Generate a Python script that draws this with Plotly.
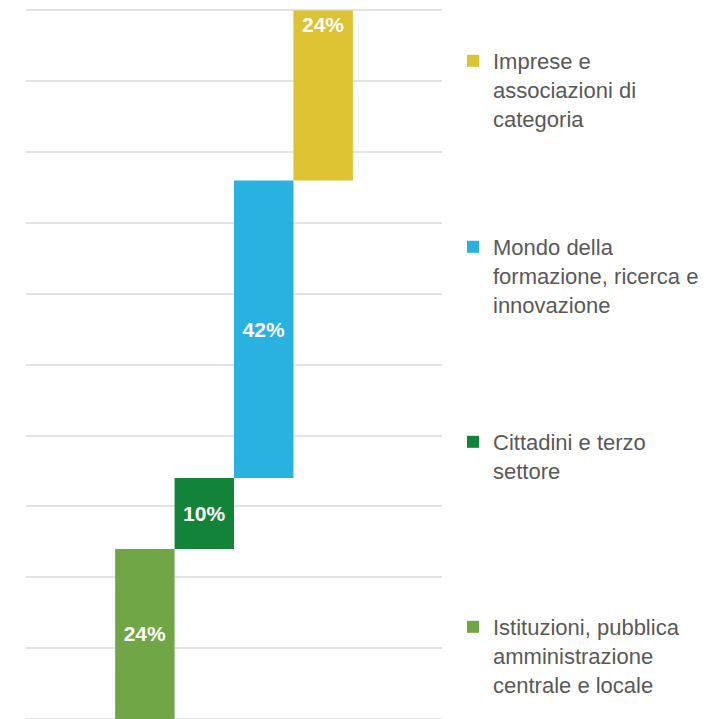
import plotly.graph_objects as go
import numpy as np

# Data (bottom to top of the cascade)
categories = [
    "Istituzioni, pubblica<br>amministrazione<br>centrale e locale",
    "Cittadini e terzo<br>settore",
    "Mondo della<br>formazione, ricerca e<br>innovazione",
    "Imprese e<br>associazioni di<br>categoria",
]
values = [24, 10, 42, 24]
labels = ["24%", "10%", "42%", "24%"]
colors = ["#70A645", "#13833A", "#29B1E0", "#DDC232"]

bases = np.concatenate([[0], np.cumsum(values)[:-1]])

fig = go.Figure()

legend_names = ["legend4", "legend3", "legend2", "legend"]
legend_marker_y = [627, 442, 247, 61]  # pixel centre of first legend line

for i, (cat, val, lab, col) in enumerate(zip(categories, values, labels, colors)):
    fig.add_trace(go.Bar(
        x=[i],
        y=[val],
        base=[bases[i]],
        width=1.0,
        name=cat,
        marker=dict(color=col, line=dict(width=0)),
        text=[lab],
        textposition="inside",
        insidetextanchor="end" if i == len(values) - 1 else "middle",
        textangle=0,
        textfont=dict(family="Liberation Sans, Arial, sans-serif", size=21, color="white", weight="bold"),
        legend=legend_names[i],
        hoverinfo="skip",
    ))

W, H = 707, 719
legend_common = dict(
    font=dict(family="Liberation Sans, Arial, sans-serif", size=22, color="#595959"),
    bgcolor="rgba(0,0,0,0)",
    borderwidth=0,
    xref="container",
    yref="container",
    xanchor="left",
    yanchor="top",
    valign="top",
    itemclick=False,
    itemdoubleclick=False,
)
layout_legends = {}
for ln, my in zip(legend_names, legend_marker_y):
    d = dict(legend_common)
    d["x"] = 445 / W
    d["y"] = 1 - (my - 29) / H
    layout_legends[ln] = d

fig.update_layout(
    width=W,
    height=H,
    margin=dict(l=18, r=W - 434, t=0, b=0, autoexpand=False),
    plot_bgcolor="white",
    paper_bgcolor="white",
    barmode="overlay",
    showlegend=True,
    xaxis=dict(range=[-2, 5], visible=False, fixedrange=True),
    yaxis=dict(range=[-1.127, 100.35], tick0=0, dtick=10, showgrid=True, gridcolor="#E3E3E3", gridwidth=1.5,
               zeroline=False, showticklabels=False, showline=False, ticks="", fixedrange=True),
    **layout_legends,
)

fig.write_html("out.html")
